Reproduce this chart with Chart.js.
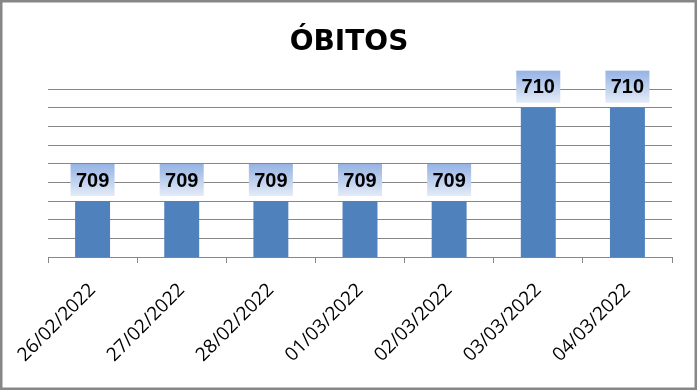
<!DOCTYPE html>
<html lang="pt">
<head>
    <meta charset="UTF-8">
    <title>Óbitos</title>
    <script src="https://cdn.jsdelivr.net/npm/chart.js"></script>
    <style>
        body {
            margin: 0;
            padding: 0;
            background: #ffffff;
            overflow: hidden;
        }

        #wrap {
            position: relative;
            width: 698px;
            height: 391px;
        }
    </style>
</head>
<body>
    <div id="wrap">
        <canvas id="obitosChart"></canvas>
    </div>
    <script>
        const chartTitle = 'ÓBITOS';
        const dates = ['26/02/2022', '27/02/2022', '28/02/2022', '01/03/2022', '02/03/2022', '03/03/2022', '04/03/2022'];
        const obitos = [709, 709, 709, 709, 709, 710, 710];
        const yMin = 708.4;
        const yMax = 710.2;
        const yStep = 0.2;

        const gridGray = '#868686';

        // value boxes above the bars (gradient fill like the Excel original)
        const valueLabels = {
            id: 'valueLabels',
            afterDatasetsDraw(chart) {
                const ctx = chart.ctx;
                const meta = chart.getDatasetMeta(0);
                ctx.save();
                meta.data.forEach((bar, i) => {
                    const w = 44, h = 32;
                    const x = bar.x - w / 2;
                    const y = bar.y - 5 - h;
                    const grad = ctx.createLinearGradient(0, y, 0, y + h);
                    grad.addColorStop(0, '#95b3e3');
                    grad.addColorStop(1, '#e4ebf7');
                    ctx.fillStyle = grad;
                    ctx.fillRect(x, y, w, h);
                    ctx.fillStyle = '#000000';
                    ctx.font = 'bold 20px "Liberation Sans", Arial, sans-serif';
                    ctx.textAlign = 'center';
                    ctx.textBaseline = 'middle';
                    ctx.fillText(String(obitos[i]), bar.x, y + h / 2 + 1);
                });
                ctx.restore();
            }
        };

        // grey frame around the whole chart
        const frame = {
            id: 'frame',
            afterDraw(chart) {
                const ctx = chart.ctx;
                ctx.save();
                ctx.strokeStyle = '#878787';
                ctx.lineWidth = 2.5;
                ctx.strokeRect(1.25, 1.25, 694.5, 387.5);
                ctx.restore();
            }
        };

        const ctx = document.getElementById('obitosChart').getContext('2d');
        new Chart(ctx, {
            type: 'bar',
            data: {
                labels: dates,
                datasets: [{
                    label: 'Óbitos',
                    data: obitos,
                    backgroundColor: '#4f81bd',
                    borderWidth: 0,
                    categoryPercentage: 0.49,
                    barPercentage: 0.8
                }]
            },
            options: {
                responsive: true,
                maintainAspectRatio: false,
                animation: false,
                layout: {
                    padding: { left: 24, right: 24, top: 0, bottom: 0 }
                },
                plugins: {
                    legend: { display: false },
                    tooltip: { enabled: false },
                    title: {
                        display: true,
                        text: chartTitle,
                        color: '#000000',
                        font: { family: '"DejaVu Sans", sans-serif', size: 28, weight: 'bold', lineHeight: 1.2 },
                        padding: { top: 26, bottom: 29.4 }
                    }
                },
                scales: {
                    x: {
                        grid: {
                            display: true,
                            drawOnChartArea: false,
                            color: gridGray,
                            tickLength: 6,
                            tickColor: gridGray
                        },
                        border: { display: true, color: gridGray },
                        ticks: {
                            color: '#000000',
                            font: { family: '"Open Sans", sans-serif', size: 19 },
                            minRotation: 45,
                            maxRotation: 45,
                            padding: 16
                        },
                        afterFit(scale) {
                            scale.height = 134;
                        }
                    },
                    y: {
                        min: yMin,
                        max: yMax,
                        grid: {
                            color: gridGray,
                            drawTicks: false
                        },
                        border: { display: false },
                        ticks: {
                            display: false,
                            stepSize: yStep
                        },
                        afterFit(scale) {
                            scale.width = 24;
                        }
                    },
                    // empty spacer on the right so the title stays centred on the frame
                    spacer: {
                        type: 'linear',
                        position: 'right',
                        grid: { display: false },
                        border: { display: false },
                        ticks: { display: false },
                        afterFit(scale) {
                            scale.width = 2;
                        }
                    }
                }
            },
            plugins: [valueLabels, frame]
        });
    </script>
</body>
</html>
